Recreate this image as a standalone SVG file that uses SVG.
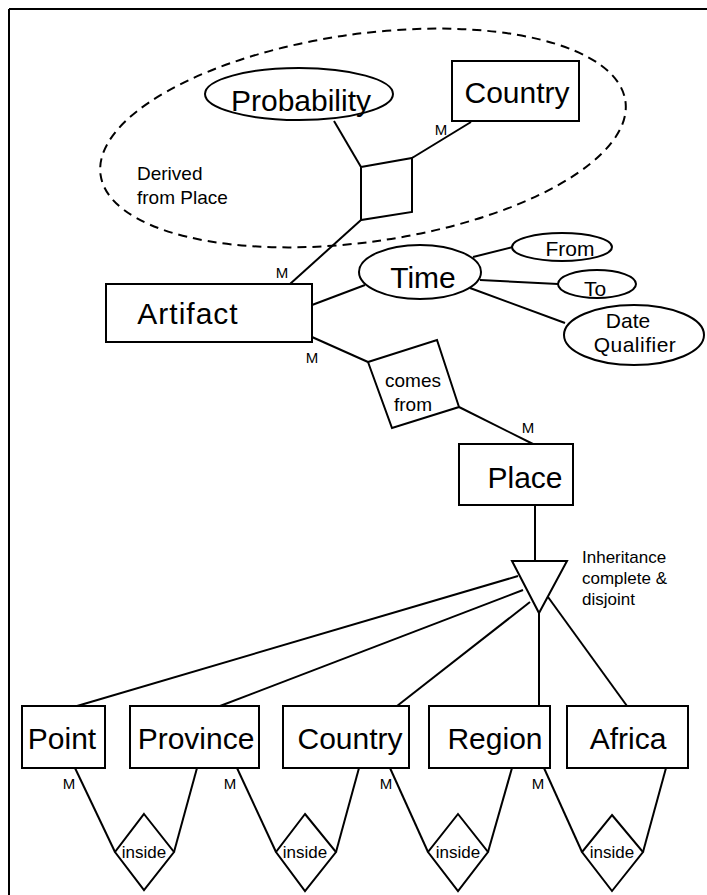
<svg xmlns="http://www.w3.org/2000/svg" width="707" height="895" viewBox="0 0 707 895">
<style>
.ln{stroke:#000;stroke-width:2;fill:none}
.nd{stroke:#000;stroke-width:2;fill:#fff}
.t{font-family:"Liberation Sans",Arial,sans-serif;fill:#000;text-anchor:middle}
.big{font-size:30px}
.mid{font-size:21px}
.sm{font-size:19px}
.m{font-size:15px}
.inh{font-size:17px}
.ins{font-size:17px}
.lt{text-anchor:start}
</style>
<rect x="0" y="0" width="707" height="895" fill="#fff"/>
<g id="frame">
<line class="ln" x1="9" y1="9" x2="707" y2="9"/>
<line class="ln" x1="9" y1="9" x2="9" y2="895"/>
</g>
<g id="derived-group">
<ellipse cx="363" cy="138" rx="265" ry="104" transform="rotate(-8 363 138)" fill="none" stroke="#000" stroke-width="2" stroke-dasharray="9 6"/>
<text class="t sm lt" x="137" y="180">Derived</text>
<text class="t sm lt" x="137" y="204">from Place</text>
</g>
<g id="connectors">
<line class="ln" x1="334" y1="121" x2="361" y2="167"/>
<line class="ln" x1="471" y1="122" x2="412" y2="158"/>
<line class="ln" x1="361" y1="220" x2="290" y2="284"/>
<line class="ln" x1="312" y1="305" x2="365" y2="285"/>
<line class="ln" x1="473" y1="257" x2="513" y2="247"/>
<line class="ln" x1="480" y1="280" x2="558" y2="284"/>
<line class="ln" x1="470" y1="288" x2="565" y2="323"/>
<line class="ln" x1="312" y1="337" x2="368" y2="362"/>
<line class="ln" x1="459" y1="407" x2="533" y2="444"/>
<line class="ln" x1="535" y1="505" x2="535" y2="561"/>
<line class="ln" x1="518" y1="576" x2="77" y2="706"/>
<line class="ln" x1="523" y1="590" x2="220" y2="706"/>
<line class="ln" x1="530" y1="602" x2="397" y2="706"/>
<line class="ln" x1="539" y1="613" x2="539" y2="706"/>
<line class="ln" x1="548" y1="597" x2="627" y2="706"/>
<line class="ln" x1="75" y1="768" x2="115" y2="852"/>
<line class="ln" x1="197" y1="768" x2="174" y2="852"/>
<line class="ln" x1="237" y1="768" x2="276" y2="852"/>
<line class="ln" x1="359" y1="768" x2="336" y2="852"/>
<line class="ln" x1="390" y1="768" x2="428" y2="852"/>
<line class="ln" x1="512" y1="768" x2="488" y2="852"/>
<line class="ln" x1="544" y1="768" x2="582" y2="852"/>
<line class="ln" x1="666" y1="768" x2="643" y2="852"/>
<text class="t m" x="441" y="135">M</text>
<text class="t m" x="282" y="278">M</text>
<text class="t m" x="312" y="363">M</text>
<text class="t m" x="528" y="433">M</text>
<text class="t m" x="69" y="789">M</text>
<text class="t m" x="230" y="789">M</text>
<text class="t m" x="386" y="789">M</text>
<text class="t m" x="538" y="789">M</text>
</g>
<g id="probability">
<ellipse class="nd" cx="299" cy="94" rx="94" ry="26"/>
<text class="t big" x="301" y="111">Probability</text>
</g>
<g id="country-top">
<rect class="nd" x="452" y="61" width="127" height="60"/>
<text class="t big" x="517" y="103">Country</text>
</g>
<g id="derived-rel">
<polygon class="nd" points="361,167 412,158 412,212 361,220"/>
</g>
<g id="artifact">
<rect class="nd" x="106" y="284" width="206" height="58"/>
<text class="t big" x="188" y="324" letter-spacing="1">Artifact</text>
</g>
<g id="time">
<ellipse class="nd" cx="420" cy="272" rx="61" ry="27"/>
<text class="t big" x="423" y="288">Time</text>
</g>
<g id="from">
<ellipse class="nd" cx="562" cy="247" rx="50" ry="14"/>
<text class="t mid" x="570" y="256">From</text>
</g>
<g id="to">
<ellipse class="nd" cx="597" cy="284" rx="39" ry="14"/>
<text class="t mid" x="595" y="296">To</text>
</g>
<g id="date-qualifier">
<ellipse class="nd" cx="634" cy="335" rx="70" ry="30"/>
<text class="t mid" x="628" y="328">Date</text>
<text class="t mid" x="635" y="352" letter-spacing="0.5">Qualifier</text>
</g>
<g id="comes-from">
<polygon class="nd" points="368,362 437,340 459,407 392,428"/>
<text class="t sm" x="413" y="387">comes</text>
<text class="t sm" x="413" y="411">from</text>
</g>
<g id="place">
<rect class="nd" x="459" y="444" width="114" height="61"/>
<text class="t big" x="525" y="488">Place</text>
</g>
<g id="inheritance">
<polygon class="nd" points="512,561 567,561 539,613"/>
<text class="t inh lt" x="582" y="563">Inheritance</text>
<text class="t inh lt" x="582" y="584">complete &amp;</text>
<text class="t inh lt" x="582" y="605">disjoint</text>
</g>
<g id="point">
<rect class="nd" x="22" y="706" width="83" height="62"/>
<text class="t big" x="62" y="749">Point</text>
</g>
<g id="province">
<rect class="nd" x="130" y="706" width="129" height="62"/>
<text class="t big" x="196" y="749">Province</text>
</g>
<g id="country">
<rect class="nd" x="283" y="706" width="126" height="62"/>
<text class="t big" x="350" y="749">Country</text>
</g>
<g id="region">
<rect class="nd" x="429" y="706" width="121" height="62"/>
<text class="t big" x="495" y="749">Region</text>
</g>
<g id="africa">
<rect class="nd" x="567" y="706" width="121" height="62"/>
<text class="t big" x="628" y="749">Africa</text>
</g>
<g id="inside-1">
<polygon class="nd" points="144,814 174,852 144,890 115,852"/>
<text class="t ins" x="144" y="858">inside</text>
</g>
<g id="inside-2">
<polygon class="nd" points="305,814 336,852 305,891 276,852"/>
<text class="t ins" x="305" y="858">inside</text>
</g>
<g id="inside-3">
<polygon class="nd" points="458,814 488,852 458,891 428,852"/>
<text class="t ins" x="458" y="858">inside</text>
</g>
<g id="inside-4">
<polygon class="nd" points="612,815 643,852 612,891 582,852"/>
<text class="t ins" x="612" y="858">inside</text>
</g>
</svg>
